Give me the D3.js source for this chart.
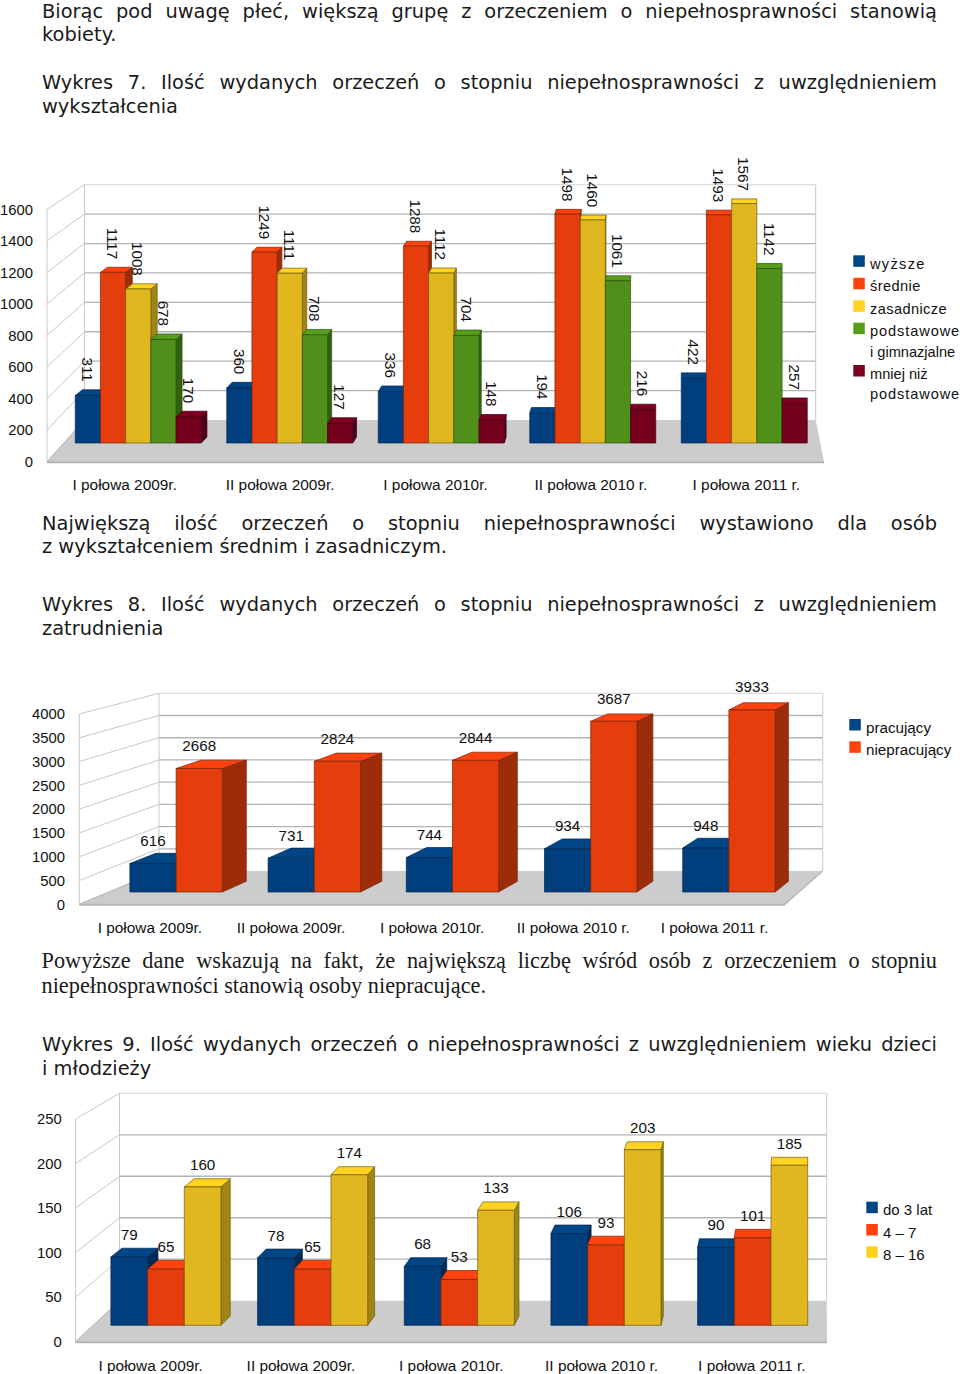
<!DOCTYPE html>
<html lang="pl"><head><meta charset="utf-8">
<script src="https://cdn.jsdelivr.net/npm/d3@7"></script>
<style>html,body{margin:0;padding:0;background:#fff}svg{display:block}</style>
</head><body><svg id="page" width="960" height="1374"></svg>
<script>
// ---------- data ----------
const periods = ["I połowa 2009r.","II połowa 2009r.","I połowa 2010r.","II połowa 2010 r.","I połowa 2011 r."];

const eduNames = ["wyższe","średnie","zasadnicze","podstawowe|i gimnazjalne","mniej niż|podstawowe"];
const eduWyzsze = [311,360,336,194,422];
const eduSrednie = [1117,1249,1288,1498,1493];
const eduZasadnicze = [1008,1111,1112,1460,1567];
const eduPodstawowe = [678,708,704,1061,1142];
const eduMniej = [170,127,148,216,257];
const eduTicks = [0,200,400,600,800,1000,1200,1400,1600];

const jobNames = ["pracujący","niepracujący"];
const jobPracujacy = [616,731,744,934,948];
const jobNiepracujacy = [2668,2824,2844,3687,3933];
const jobTicks = [0,500,1000,1500,2000,2500,3000,3500,4000];

const ageNames = ["do 3 lat","4 – 7","8 – 16"];
const age3 = [79,78,68,106,90];
const age7 = [65,65,53,93,101];
const age16 = [160,174,133,203,185];
const ageTicks = [0,50,100,150,200,250];

const paragraphs = [
 {t:"Biorąc pod uwagę płeć, większą grupę z orzeczeniem o niepełnosprawności stanowią",y:18,j:1},
 {t:"kobiety.",y:41},
 {t:"Wykres 7. Ilość wydanych orzeczeń o stopniu niepełnosprawności z uwzględnieniem",y:89,j:1},
 {t:"wykształcenia",y:113},
 {t:"Największą ilość orzeczeń o stopniu niepełnosprawności wystawiono dla osób",y:530,j:1},
 {t:"z wykształceniem średnim i zasadniczym.",y:553},
 {t:"Wykres 8. Ilość wydanych orzeczeń o stopniu niepełnosprawności z uwzględnieniem",y:611,j:1},
 {t:"zatrudnienia",y:635},
 {t:"Powyższe dane wskazują na fakt, że największą liczbę wśród osób z orzeczeniem o stopniu",y:968,j:1,serif:1},
 {t:"niepełnosprawności stanowią osoby niepracujące.",y:993,serif:1},
 {t:"Wykres 9. Ilość wydanych orzeczeń o niepełnosprawności z uwzględnieniem wieku dzieci",y:1051,j:1},
 {t:"i młodzieży",y:1075}
];

// front / top / side shades of each series colour
const palette = [
 {front:"#003f7e",top:"#004586",side:"#002a58",edge:"#00284f"},
 {front:"#e53d0b",top:"#ff420e",side:"#9c2d08",edge:"#7a2206"},
 {front:"#e0b71f",top:"#ffd320",side:"#a08516",edge:"#6e5c10"},
 {front:"#4f8f1a",top:"#579d1c",side:"#34610f",edge:"#2c520d"},
 {front:"#75001e",top:"#7e0021",side:"#4e0016",edge:"#420012"}
];

// wide letter fit of the legend text in the first chart
const legendFit = {"wyższe":1.3,"średnie":.4,"zasadnicze":.4,"podstawowe":.9};

const charts = [
 {series:[eduWyzsze,eduSrednie,eduZasadnicze,eduPodstawowe,eduMniej],names:eduNames,ticks:eduTicks,
  front:{x:47,y0:461.7,yTop:209.3,xr:824},back:{x:84.5,y0:420,yTop:184.7,xr:815.7},
  bars:{x0:62.5,x1:820,base:443,k:.1528,barW:25.2},
  dxK:.0125,vx:657,dy0:6,dyK:.0055,tickX:33,labelY:489,rotate:true,gap:8,gapK:0,
  legend:{x:853.3,text:870,rows:[255.3,277.8,300.3,322.7,365],lineH:20.3,fs:14.6}},
 {series:[jobPracujacy,jobNiepracujacy],names:jobNames,ticks:jobTicks,
  front:{x:79.3,y0:904.3,yTop:714,xr:785},back:{x:159,y0:871,yTop:693.3,xr:822.7},
  bars:{x0:107,x1:798,base:892,k:.0463,barW:46.2},
  dxK:.0193,vx:1465,dy0:10.7,dyK:.0195,tickX:65,labelY:932,rotate:false,gap:6.5,gapK:.022,
  legend:{x:849.3,text:866,rows:[719,741.3],lineH:21,fs:15.2}},
 {series:[age3,age7,age16],names:ageNames,ticks:ageTicks,
  front:{x:75.5,y0:1341.7,yTop:1119,xr:827},back:{x:119.5,y0:1300.7,yTop:1093.3,xr:826.7},
  bars:{x0:92.6,x1:826,base:1325.3,k:.865,barW:36.7},
  dxK:.0158,vx:808,dy0:9.3,dyK:.008,tickX:61.7,labelY:1370,rotate:false,gap:8.5,gapK:0,
  legend:{x:866.3,text:883,rows:[1201.7,1224,1246.3],lineH:21,fs:15}}
];

// ---------- drawing ----------
const svg = d3.select("#page");
const SANS = "'Liberation Sans',Arial,sans-serif";
const TXT = "#111";

// paragraphs, justified by word-spacing between x=42 and x=937
const textG = svg.append("g").attr("fill","#1a1a1a");
paragraphs.forEach(p=>{
  const n = textG.append("text").attr("x",p.serif?41.5:42).attr("y",p.y)
    .style("font-family",p.serif?"'Liberation Serif',serif":"'DejaVu Sans',sans-serif")
    .style("font-size",p.serif?"22.3px":"19.4px").text(p.t);
  if(p.j){
    const w = n.node().getComputedTextLength();
    const gaps = p.t.split(" ").length-1;
    n.style("word-spacing",((937-(p.serif?41.5:42)-w)/gaps)+"px");
  }
});

charts.forEach(c=>{
  const g = svg.append("g");
  const frontY = d3.scaleLinear().domain(d3.extent(c.ticks)).range([c.front.y0,c.front.yTop]);
  const backY  = d3.scaleLinear().domain(d3.extent(c.ticks)).range([c.back.y0,c.back.yTop]);
  const height = d3.scaleLinear().domain([0,1]).range([0,c.bars.k]);
  const catX = d3.scaleBand().domain(periods).range([c.front.x,c.front.xr]);
  const groupX = d3.scaleBand().domain(periods).range([c.bars.x0,c.bars.x1]);
  const innerW = c.bars.barW*c.series.length;
  const innerX = d3.scaleBand().domain(d3.range(c.series.length)).range([-innerW/2,innerW/2]);

  const dxAt = x => Math.max(0,c.dxK*(c.vx-x));
  const dyAt = y => c.dy0 - c.dyK*(c.bars.base-y);

  // floor
  g.append("path").attr("fill","#cccccc")
    .attr("d",d3.line()([[c.front.x,c.front.y0],[c.back.x,c.back.y0],[c.back.xr,c.back.y0],[c.front.xr,c.front.y0]])+"Z");
  g.append("line").attr("x1",c.front.x).attr("x2",c.front.xr).attr("y1",c.front.y0+.5).attr("y2",c.front.y0+.5)
    .attr("stroke","#b3b3b3").attr("stroke-width",2);
  if(c.front.xr<c.back.xr-10)
    g.append("line").attr("x1",c.front.xr).attr("y1",c.front.y0).attr("x2",c.back.xr).attr("y2",c.back.y0)
      .attr("stroke","#b3b3b3").attr("stroke-width",1.2);

  // grid: side wall and back wall
  c.ticks.forEach(t=>{
    g.append("line").attr("x1",c.front.x).attr("y1",frontY(t)).attr("x2",c.back.x).attr("y2",backY(t))
      .attr("stroke",t===0?"#b3b3b3":"#c8c8c8").attr("stroke-width",1);
    if(t>0) g.append("line").attr("x1",c.back.x).attr("x2",c.back.xr).attr("y1",backY(t)).attr("y2",backY(t))
      .attr("stroke",t===c.ticks[c.ticks.length-1]?"#d4d4d4":"#b3b3b3").attr("stroke-width",t===c.ticks[c.ticks.length-1]?1:1.3);
  });
  g.append("line").attr("x1",c.front.x).attr("x2",c.front.x).attr("y1",c.front.yTop).attr("y2",c.front.y0).attr("stroke","#c8c8c8");
  g.append("line").attr("x1",c.back.x).attr("x2",c.back.x).attr("y1",c.back.yTop).attr("y2",c.back.y0).attr("stroke","#c8c8c8");
  g.append("line").attr("x1",c.back.xr).attr("x2",c.back.xr).attr("y1",c.back.yTop).attr("y2",c.back.y0).attr("stroke","#c8c8c8");

  // bars, left to right so each one covers the side of its neighbour
  periods.forEach((p,pi)=>{
    const gx = groupX(p)+groupX.bandwidth()/2;
    c.series.forEach((vals,si)=>{
      const col = palette[si], x0 = gx+innerX(si), x1 = x0+innerX.bandwidth();
      const yb = c.bars.base, yt = yb-height(vals[pi]);
      const dyT = dyAt(yt), dyB = dyAt(yb), dxL = dxAt(x0), dxR = dxAt(x1);
      const poly = (pts,f)=>g.append("path").attr("d",d3.line()(pts)+"Z").attr("fill",f)
        .attr("stroke",col.edge).attr("stroke-width",.7).attr("stroke-linejoin","round");
      if(dxR>.5) poly([[x1,yt],[x1+dxR,yt-dyT],[x1+dxR,yb-dyB],[x1,yb]],col.side);
      poly([[x0,yt],[x0+dxL,yt-dyT],[x1+dxR,yt-dyT],[x1,yt]],col.top);
      poly([[x0,yt],[x1,yt],[x1,yb],[x0,yb]],col.front);
    });
  });

  // value labels
  periods.forEach((p,pi)=>{
    const gx = groupX(p)+groupX.bandwidth()/2;
    c.series.forEach((vals,si)=>{
      const cx = gx+innerX(si)+innerX.bandwidth()/2;
      const h = height(vals[pi]), yt = c.bars.base-h;
      const ly = yt-dyAt(yt)-c.gap-c.gapK*h;
      const t = g.append("text").attr("fill",TXT).style("font-family",SANS).style("font-size","15.2px").text(vals[pi]);
      if(c.rotate) t.attr("text-anchor","end").attr("dy",".35em").attr("transform",`translate(${cx-.5},${ly}) rotate(90)`);
      else t.attr("text-anchor","middle").attr("x",cx).attr("y",ly);
    });
  });

  // y axis
  const yAxis = g.append("g").attr("transform",`translate(${c.tickX},0)`)
    .call(d3.axisLeft(frontY).tickValues(c.ticks).tickSize(0).tickPadding(0).tickFormat(d3.format("d")));
  yAxis.select(".domain").remove();
  yAxis.selectAll("text").attr("fill",TXT).style("font-family",SANS).style("font-size","14.8px");

  // x axis labels
  const xAxis = g.append("g").attr("transform",`translate(0,${c.labelY-10})`)
    .call(d3.axisBottom(catX).tickSize(0).tickPadding(0));
  xAxis.select(".domain").remove();
  xAxis.selectAll("text").attr("fill",TXT).style("font-family",SANS).style("font-size","15.4px");

  // legend
  c.names.forEach((name,i)=>{
    const y = c.legend.rows[i];
    g.append("rect").attr("x",c.legend.x).attr("y",y).attr("width",11.5).attr("height",11.5).attr("fill",palette[i].top);
    name.split("|").forEach((ln,k)=>{
      g.append("text").attr("x",c.legend.text).attr("y",y+13.5+k*c.legend.lineH).attr("fill",TXT)
       .style("letter-spacing",(c.rotate&&legendFit[ln]||0)+"px")
       .style("font-family",SANS).style("font-size",c.legend.fs+"px").text(ln);
    });
  });
});
</script></body></html>
